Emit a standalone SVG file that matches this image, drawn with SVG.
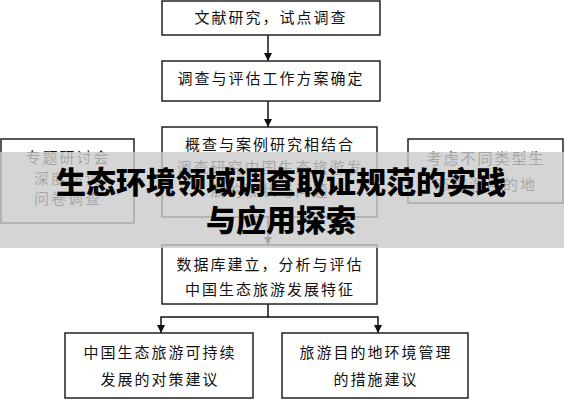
<svg xmlns="http://www.w3.org/2000/svg" width="564" height="400" viewBox="0 0 564 400">
<defs>
<style>
.box{fill:#fff;stroke:#222;stroke-width:1.5}
.t{font-family:"Noto Sans CJK SC","Noto Sans",sans-serif;font-size:15px;fill:#111;text-anchor:middle;letter-spacing:2px}
.c{stroke:#111;stroke-width:1.5;fill:none}
.title{font-family:"Noto Sans CJK SC","Noto Sans",sans-serif;font-size:30px;font-weight:900;fill:#000;text-anchor:middle}
</style>
<marker id="ah" viewBox="0 0 10 10" refX="10" refY="5" markerWidth="8" markerHeight="8" markerUnits="userSpaceOnUse" orient="auto">
<path d="M0,0 L10,5 L0,10 Z" fill="#111"/>
</marker>
</defs>
<rect width="564" height="400" fill="#fff"/>
<g id="connectors">
<line class="c" x1="268" y1="35" x2="268" y2="61" marker-end="url(#ah)"/>
<line class="c" x1="268" y1="101" x2="268" y2="127" marker-end="url(#ah)"/>
<line class="c" x1="268" y1="217" x2="268" y2="245" marker-end="url(#ah)"/>
<polyline class="c" points="268,304 268,317 161,317 161,333" marker-end="url(#ah)"/>
<polyline class="c" points="268,317 378,317 378,333" marker-end="url(#ah)"/>
</g>
<g id="n1"><rect class="box" x="162" y="1" width="218" height="34"/><text class="t" x="271" y="23">文献研究，试点调查</text></g>
<g id="n2"><rect class="box" x="162" y="61" width="218" height="40"/><text class="t" x="271" y="84">调查与评估工作方案确定</text></g>
<g id="n3"><rect class="box" x="162" y="127" width="215" height="90"/>
<text class="t" x="270" y="150">概查与案例研究相结合</text>
<text class="t" x="270" y="173">调查研究中国生态旅游发</text>
<text class="t" x="270" y="196">展的现状与问题</text></g>
<g id="n4"><rect class="box" x="1" y="139" width="133" height="84"/>
<text class="t" x="68" y="163">专题研讨会</text>
<text class="t" x="68" y="184">深度访谈</text>
<text class="t" x="68" y="204">问卷调查</text></g>
<g id="n5"><rect class="box" x="408" y="139" width="155" height="64"/>
<text class="t" x="486" y="164">考虑不同类型生</text>
<text class="t" x="486" y="190">态旅游目的地</text></g>
<g id="n6"><rect class="box" x="162" y="245" width="215" height="59"/>
<text class="t" x="270" y="270">数据库建立，分析与评估</text>
<text class="t" x="270" y="295">中国生态旅游发展特征</text></g>
<g id="n7"><rect class="box" x="65" y="333" width="188" height="65"/>
<text class="t" x="160" y="358">中国生态旅游可持续</text>
<text class="t" x="160" y="385">发展的对策建议</text></g>
<g id="n8"><rect class="box" x="282" y="333" width="186" height="65"/>
<text class="t" x="376" y="358">旅游目的地环境管理</text>
<text class="t" x="376" y="385">的措施建议</text></g>
<rect x="0" y="152" width="564" height="96" fill="#cbcbcb" fill-opacity="0.8"/>
<text class="title" x="281" y="193">生态环境领域调查取证规范的实践</text>
<text class="title" x="281" y="231">与应用探索</text>
</svg>
